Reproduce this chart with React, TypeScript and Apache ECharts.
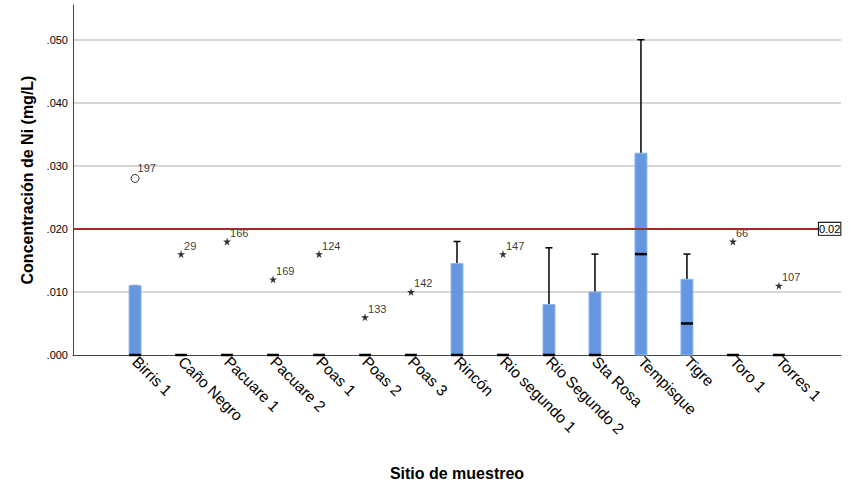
import React, { useEffect, useRef } from "react";
import * as echarts from "echarts";

// Categories (sampling sites)
const categories: string[] = [
  "Birris 1", "Caño Negro", "Pacuare 1", "Pacuare 2", "Poas 1", "Poas 2", "Poas 3",
  "Rincón", "Rio segundo 1", "Rio Segundo 2", "Sta Rosa", "Tempisque", "Tigre", "Toro 1", "Torres 1",
];

// Box statistics per category: [Q1, median, Q3, upper whisker]
const q1: number[] = [0, 0, 0, 0, 0, 0, 0, 0, 0, 0, 0, 0, 0, 0, 0];
const medians: number[] = [0, 0, 0, 0, 0, 0, 0, 0, 0, 0, 0, 0.016, 0.005, 0, 0];
const q3: number[] = [0.011, 0, 0, 0, 0, 0, 0, 0.0145, 0, 0.008, 0.010, 0.032, 0.012, 0, 0];
const upperWhisker: number[] = [0.011, 0, 0, 0, 0, 0, 0, 0.018, 0, 0.017, 0.016, 0.050, 0.016, 0, 0];

// Outliers: category index, value, case id
const outlierCat: number[] = [0];
const outlierVal: number[] = [0.028];
const outlierId: string[] = ["197"];

// Extreme values (stars)
const extremeCat: number[] = [1, 2, 3, 4, 5, 6, 8, 13, 14];
const extremeVal: number[] = [0.016, 0.018, 0.012, 0.016, 0.006, 0.010, 0.016, 0.018, 0.011];
const extremeId: string[] = ["29", "166", "169", "124", "133", "142", "147", "66", "107"];

// Reference line
const refValue = 0.02;
const refLabel = "0.02";

const FONT = 'Arial, "Liberation Sans", sans-serif';
const STAR = "path://M50,0 L61,35 L98,35 L68,57 L79,91 L50,70 L21,91 L32,57 L2,35 L39,35 Z";

export default function App() {
  const ref = useRef<HTMLDivElement>(null);

  useEffect(() => {
    if (!ref.current) return;
    const chart = echarts.init(ref.current, null, { renderer: "svg" });

    const boxData = categories.map((_, i) => [i, q1[i], medians[i], q3[i], upperWhisker[i]]);
    const outData = outlierCat.map((c, i) => ({ value: [c, outlierVal[i]], id: outlierId[i] }));
    const extData = extremeCat.map((c, i) => ({ value: [c, extremeVal[i]], id: extremeId[i] }));

    const labelStyle = {
      fontFamily: FONT,
      fontSize: 11,
      color: "#000",
      textBorderWidth: 0,
    };

    const option: any = {
      animation: false,
      backgroundColor: "#ffffff",
      grid: { left: 73, right: 10, top: 5, bottom: 128, containLabel: false },
      xAxis: {
        type: "value",
        min: -1.35,
        max: 15.35,
        name: "Sitio de muestreo",
        nameLocation: "middle",
        nameGap: 110,
        nameTextStyle: { fontFamily: FONT, fontSize: 16, fontWeight: "bold", color: "#000" },
        axisLine: { show: true, onZero: false, lineStyle: { color: "#444", width: 1 } },
        axisTick: { show: false },
        splitLine: { show: false },
        axisLabel: {
          customValues: categories.map((_, i) => i),
          formatter: (v: number) => categories[Math.round(v)] ?? "",
          rotate: -45,
          margin: 4,
          fontFamily: FONT,
          fontSize: 15.5,
          color: "#000",
          hideOverlap: false,
        },
      },
      yAxis: {
        type: "value",
        min: 0,
        max: 0.0555,
        interval: 0.01,
        name: "Concentración de Ni (mg/L)",
        nameLocation: "middle",
        nameGap: 38,
        nameTextStyle: { fontFamily: FONT, fontSize: 16, fontWeight: "bold", color: "#000" },
        axisLine: { show: true, onZero: false, lineStyle: { color: "#444", width: 1 } },
        axisTick: { show: false },
        splitLine: { show: true, showMinLine: false, showMaxLine: false, lineStyle: { color: "#c8c8c8", width: 1.5 } },
        axisLabel: {
          showMaxLabel: false,
          margin: 5,
          fontFamily: FONT,
          fontSize: 11,
          color: "#000",
          formatter: (v: number) => v.toFixed(3).replace(/^0/, ""),
        },
      },
      series: [
        {
          type: "custom",
          data: boxData,
          encode: { x: 0, y: [1, 2, 3, 4] },
          renderItem: (params: any, api: any) => {
            const i = api.value(0);
            const vq1 = api.value(1);
            const vmed = api.value(2);
            const vq3 = api.value(3);
            const vhi = api.value(4);
            const p1 = api.coord([i, vq1]);
            const x = p1[0];
            const y1 = p1[1];
            const ymed = api.coord([i, vmed])[1];
            const y3 = api.coord([i, vq3])[1];
            const yhi = api.coord([i, vhi])[1];
            const bw = api.size([1, 0])[0] * 0.26;
            const children: any[] = [];
            if (vhi > vq3) {
              children.push({
                type: "line",
                shape: { x1: x, y1: y3, x2: x, y2: yhi },
                style: { stroke: "#000", lineWidth: 1.5 },
              });
            }
            if (vhi >= vq3 && vq3 > vq1) {
              children.push({
                type: "line",
                shape: { x1: x - 3.5, y1: yhi, x2: x + 3.5, y2: yhi },
                style: { stroke: "#000", lineWidth: 1.5 },
              });
            }
            if (vq3 > vq1) {
              children.push({
                type: "rect",
                shape: { x: x - bw / 2, y: y3, width: bw, height: y1 - y3 },
                style: { fill: "#6497df", stroke: "#8fb4ea", lineWidth: 1 },
              });
            }
            children.push({
              type: "line",
              shape: { x1: x - bw / 2, y1: ymed, x2: x + bw / 2, y2: ymed },
              style: { stroke: "#000", lineWidth: 2.5 },
            });
            return { type: "group", children };
          },
          z: 3,
        },
        {
          type: "scatter",
          data: outData,
          symbol: "circle",
          symbolSize: 8,
          itemStyle: { color: "#ffffff", borderColor: "#000", borderWidth: 1 },
          label: {
            show: true,
            position: [7, -11],
            formatter: (p: any) => p.data.id,
            ...labelStyle,
          },
          z: 4,
        },
        {
          type: "scatter",
          data: extData,
          symbol: STAR,
          symbolSize: 8,
          itemStyle: { color: "#000" },
          label: {
            show: true,
            position: [7, -10],
            formatter: (p: any) => p.data.id,
            ...labelStyle,
          },
          markLine: {
            silent: true,
            symbol: ["none", "none"],
            lineStyle: { color: "#a32a2a", width: 2, type: "solid" },
            label: {
              show: true,
              position: "end",
              distance: 0,
              formatter: refLabel,
              fontFamily: FONT,
              fontSize: 11,
              color: "#000",
              backgroundColor: "#fff",
              borderColor: "#000",
              borderWidth: 1,
              padding: [1, 0, 0, 0],
            },
            data: [[{ coord: [-1.35, refValue] }, { coord: [14.87, refValue] }]],
          },
          z: 4,
        },
      ],
    };

    chart.setOption(option);
    return () => chart.dispose();
  }, []);

  return (
    <div
      ref={ref}
      style={{ position: "fixed", left: 0, top: 0, width: 851, height: 486, background: "#fff" }}
    />
  );
}
